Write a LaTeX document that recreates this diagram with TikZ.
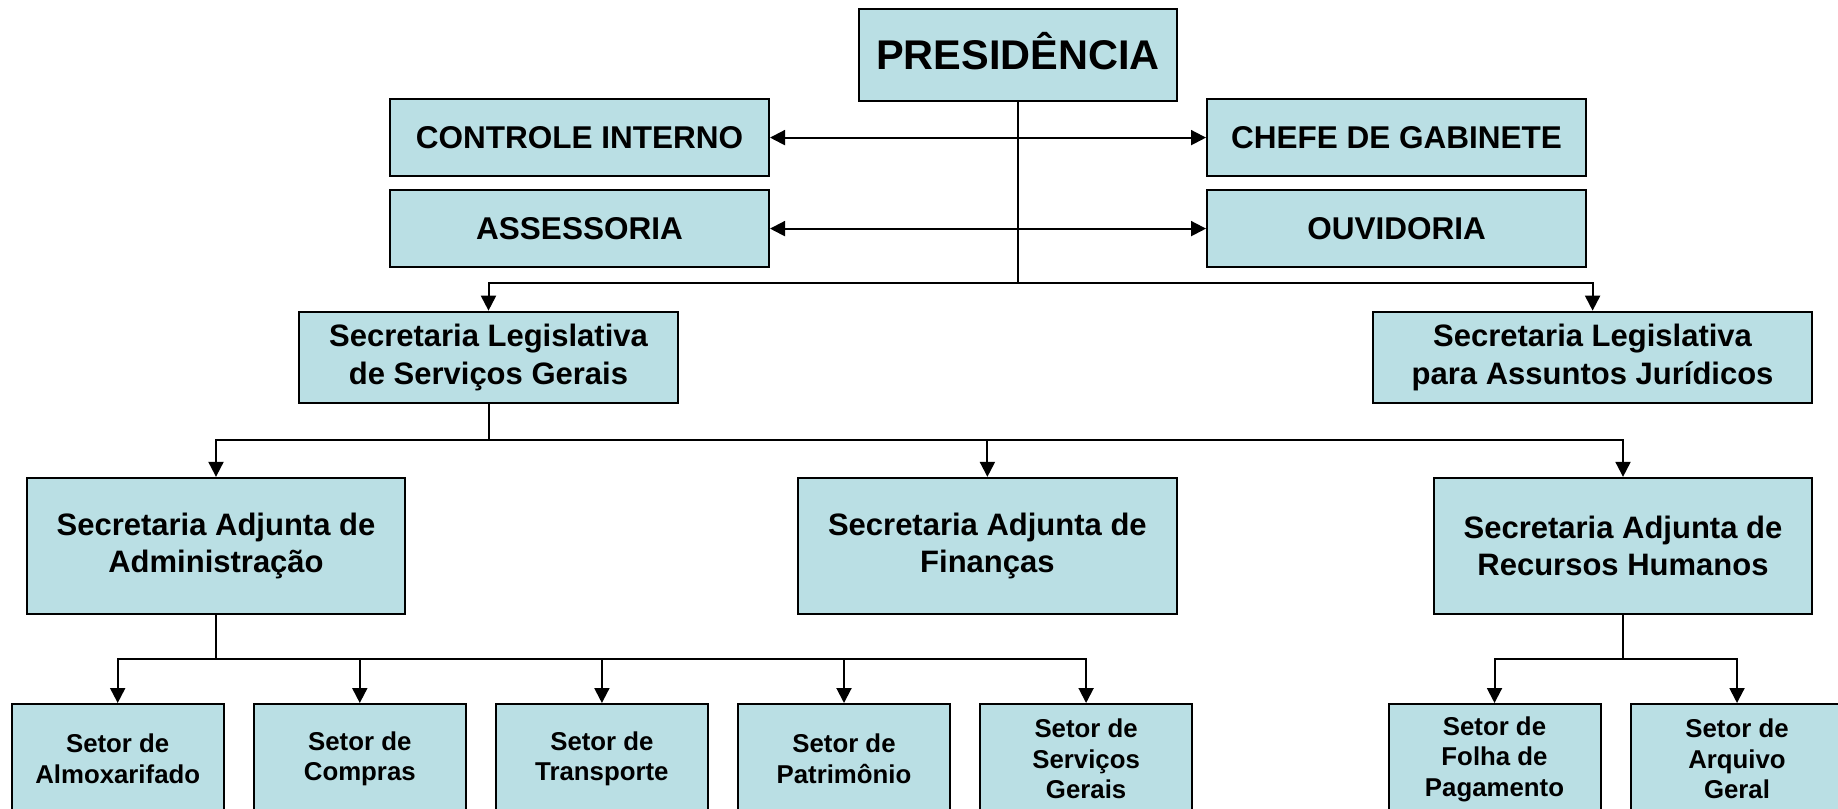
\documentclass[tikz,border=0pt]{standalone}
\usepackage{fontspec}
\setmainfont{Liberation Sans}
\usepackage{tikz}
\usetikzlibrary{positioning, calc, arrows.meta}
\definecolor{pastelcyan}{RGB}{186, 223, 228}

\begin{document}
\begin{tikzpicture}[x=1pt, y=-1pt]
\useasboundingbox (0,0) rectangle (1838,808);
\clip (0,0) rectangle (1838,808);
\tikzstyle{unit}=[rectangle, draw=black, line width=2pt, fill=pastelcyan, align=center, inner sep=0pt]
\tikzstyle{unitp}=[unit, minimum width=318pt, minimum height=91pt, text height=30pt, text depth=0pt, font=\fontsize{41.5}{48}\selectfont\bfseries]
\tikzstyle{unita}=[unit, minimum width=379pt, minimum height=76.5pt, font=\fontsize{31.5}{36}\selectfont\bfseries]
\tikzstyle{units}=[unit, minimum height=91.5pt, font=\fontsize{31}{37.5}\selectfont\bfseries]
\tikzstyle{unitj}=[unit, minimum width=378.5pt, minimum height=136.3pt, font=\fontsize{31}{37}\selectfont\bfseries]
\tikzstyle{unitt}=[unit, minimum width=212pt, minimum height=110pt, font=\fontsize{25.8}{30.5}\selectfont\bfseries]
\tikzstyle{wire}=[line width=2pt]
\tikzstyle{wirea}=[wire, -{Triangle[length=15pt, width=15pt]}]
\tikzstyle{wireb}=[wire, {Triangle[length=15pt, width=15pt]}-{Triangle[length=15pt, width=15pt]}]
%%
\node (t0) at (1018, 55) [unitp] {PRESIDÊNCIA};
\node (t11) at (579.5, 137.6) [unita] {CONTROLE INTERNO};
\node (t12) at (1396.5, 137.6) [unita] {CHEFE DE GABINETE};
\node (t13) at (579.5, 228.6) [unita] {ASSESSORIA};
\node (t14) at (1396.5, 228.6) [unita] {OUVIDORIA};

\node (t21) at (488.5, 357.4) [units, minimum width=378.5pt] {Secretaria Legislativa\\de Serviços Gerais};
\node (t22) at (1592.6, 357.4) [units, minimum width=439.6pt] {Secretaria Legislativa\\para Assuntos Jurídicos};

\node (t31) at (216, 546) [unitj] {Secretaria Adjunta de\\Administração};
\node (t32) at (987.4, 546) [unitj] {Secretaria Adjunta de\\Finanças};
\node (t33) at (1623, 546) [unitj] {Secretaria Adjunta de\\Recursos Humanos};

\node (t41) at (117.7, 759) [unitt] {Setor de\\Almoxarifado};
\node (t42) at (359.8, 759) [unitt] {Setor de\\Compras};
\node (t43) at (601.9, 759) [unitt] {Setor de\\Transporte};
\node (t44) at (844, 759) [unitt] {Setor de\\Patrimônio};
\node (t45) at (1086.1, 759) [unitt] {Setor de\\Serviços\\Gerais};
\node (t51) at (1494.5, 759) [unitt] {Setor de\\Folha de\\Pagamento};
\node (t52) at (1737, 759) [unitt] {Setor de\\Arquivo\\Geral};

%% junctions
\coordinate (j1) at (1018, 283);
\coordinate (j2) at (488.5, 440);
\coordinate (j3) at (216, 659);
\coordinate (j4) at (1623, 659);

\draw [wireb] (t11) -- (t12);
\draw [wireb] (t13) -- (t14);

\draw [wire] (t0) -- (j1);
\draw [wirea] (j1) -| (t21);
\draw [wirea] (j1) -| (t22);

\draw [wire] (t21) -- (j2);
\draw [wirea] (j2) -| (t31);
\draw [wirea] (j2) -| (t32);
\draw [wirea] (j2) -| (t33);

\draw [wire] (t31) -- (j3);
\draw [wirea] (j3) -| (t41);
\draw [wirea] (j3) -| (t42);
\draw [wirea] (j3) -| (t43);
\draw [wirea] (j3) -| (t44);
\draw [wirea] (j3) -| (t45);

\draw [wire] (t33) -- (j4);
\draw [wirea] (j4) -| (t51);
\draw [wirea] (j4) -| (t52);
\end{tikzpicture}
\end{document}
